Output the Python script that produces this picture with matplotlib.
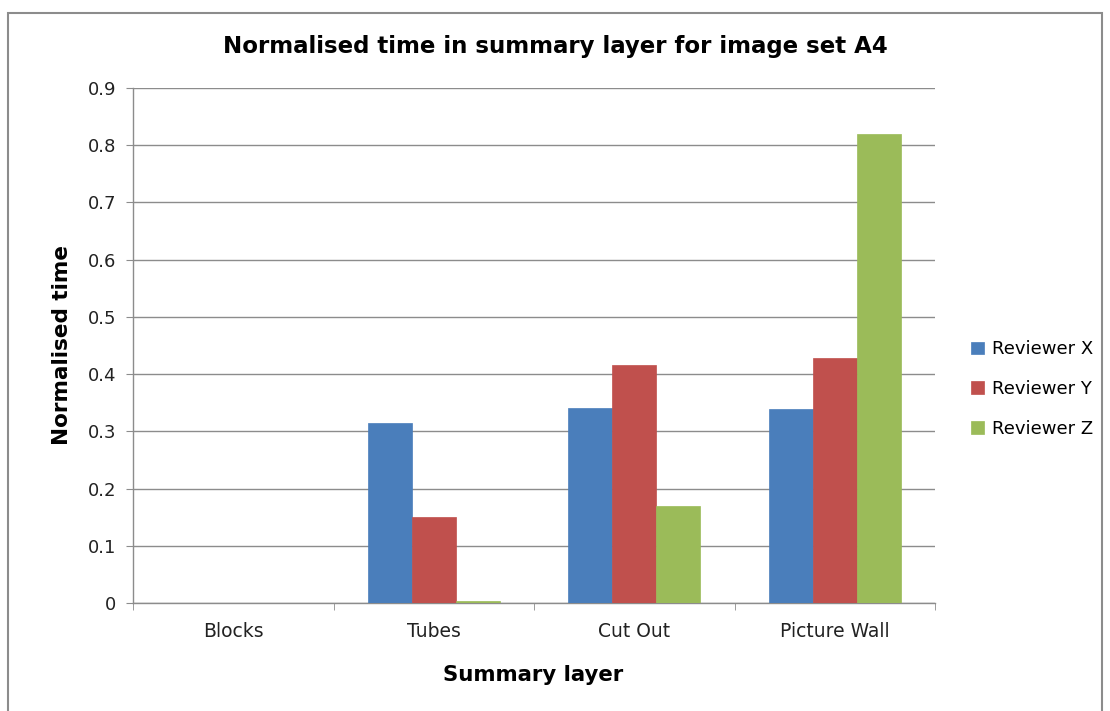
import matplotlib
matplotlib.use("Agg")
import matplotlib.pyplot as plt
import numpy as np
from matplotlib.patches import Rectangle

categories = ["Blocks", "Tubes", "Cut Out", "Picture Wall"]
series_names = ["Reviewer X", "Reviewer Y", "Reviewer Z"]
reviewer_x = [0.0, 0.315, 0.340, 0.339]
reviewer_y = [0.0, 0.151, 0.416, 0.428]
reviewer_z = [0.0, 0.003, 0.170, 0.820]
yticks = [0, 0.1, 0.2, 0.3, 0.4, 0.5, 0.6, 0.7, 0.8, 0.9]
ytick_labels = ["0", "0.1", "0.2", "0.3", "0.4", "0.5", "0.6", "0.7", "0.8", "0.9"]
colors = ["#4A7EBB", "#C0504D", "#9BBB59"]

plt.rcParams['font.family'] = ['DejaVu Sans']

W, H = 1110, 711
fig = plt.figure(figsize=(W / 100, H / 100), dpi=100)
fig.patch.set_facecolor("white")

# outer chart border
fig.patches.append(Rectangle((8 / W, -0.01), (1102 - 8) / W, (H - 13) / H + 0.01,
                             transform=fig.transFigure, fill=False,
                             edgecolor="#8C8C8C", linewidth=1.5))

ax = fig.add_axes([133 / W, (H - 603) / H, (935 - 133) / W, (603 - 88) / H])

x = np.arange(len(categories))
bw = 0.22
for i, (vals, name) in enumerate(zip([reviewer_x, reviewer_y, reviewer_z], series_names)):
    ax.bar(x + (i - 1) * bw, vals, width=bw, color=colors[i], label=name,
           edgecolor=colors[i], linewidth=0.5, zorder=3)

ax.set_xlim(-0.5, len(categories) - 0.5)
ax.set_ylim(0, 0.9)
ax.set_yticks(yticks)
ax.set_yticklabels(ytick_labels)
ax.yaxis.grid(True, color="#8C8C8C", linewidth=1.0, zorder=0)
ax.set_axisbelow(True)

ax.set_xticks(x)
ax.set_xticklabels(categories)
ax.set_xticks(np.arange(len(categories) + 1) - 0.5, minor=True)
ax.tick_params(axis="x", which="major", length=0, labelsize=13.5, pad=14, labelcolor="#222222")
ax.tick_params(axis="x", which="minor", length=5, color="#8C8C8C", direction="out")
ax.tick_params(axis="y", length=5, color="#8C8C8C", labelsize=13, pad=7, labelcolor="#222222")

for s in ["top", "right"]:
    ax.spines[s].set_visible(False)
for s in ["left", "bottom"]:
    ax.spines[s].set_color("#8C8C8C")
    ax.spines[s].set_linewidth(1.0)

bold = dict(family=["DejaVu Sans"], fontweight="bold")
fig.text(555 / W, 1 - 47 / H, "Normalised time in summary layer for image set A4",
         ha="center", va="center", fontsize=16.5, **bold)
fig.text(533 / W, 1 - 675 / H, "Summary layer", ha="center", va="center",
         fontsize=15.3, **bold)
fig.text(62 / W, 1 - 345 / H, "Normalised time", ha="center", va="center",
         fontsize=15.5, rotation=90, **bold)

handles, labels = ax.get_legend_handles_labels()
leg = fig.legend(handles, labels, loc="center left",
                 bbox_to_anchor=(971 / W, 1 - 389 / H), frameon=False,
                 fontsize=13, handlelength=0.7, handleheight=0.7,
                 handletextpad=0.45, labelspacing=1.2, borderaxespad=0, borderpad=0)

fig.savefig("out.png", dpi=100, facecolor="white")
